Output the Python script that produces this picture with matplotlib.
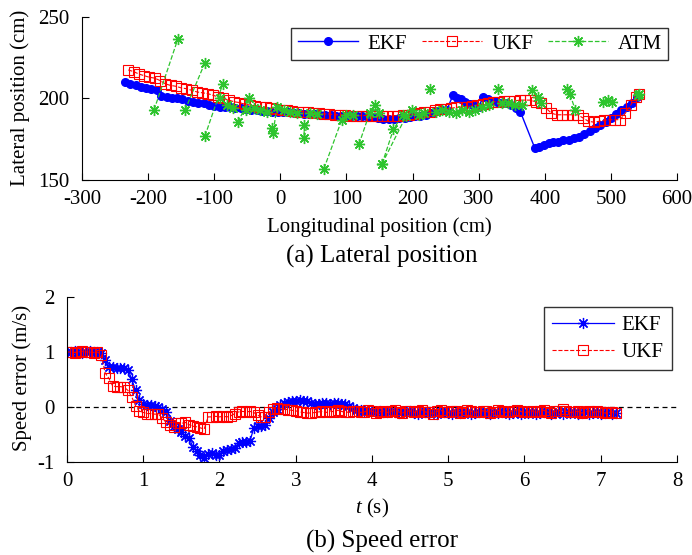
import numpy as np
import matplotlib
matplotlib.use("Agg")
import matplotlib.pyplot as plt

plt.rcParams['font.family'] = ['Liberation Serif', 'DejaVu Serif']
plt.rcParams['mathtext.fontset'] = 'custom'
plt.rcParams['mathtext.it'] = 'Liberation Serif:italic'
plt.rcParams['mathtext.rm'] = 'Liberation Serif'
plt.rcParams['axes.unicode_minus'] = False

# ---- (a) lateral position data (cm) ----
ekf_lon = [-235, -227, -219, -211, -203, -195, -187, -180, -172, -164,
           -156, -148, -140, -132, -124, -116, -108, -100, -92, -84,
           -76, -68, -60, -52, -44, -36, -28, -20, -12, -4,
           4, 12, 20, 28, 36, 44, 52, 60, 68, 76,
           84, 92, 100, 108, 116, 124, 132, 140, 148, 156,
           164, 172, 180, 188, 196, 204, 212, 220, 228, 236,
           244, 252, 261, 267, 273, 280, 287, 294, 300, 307,
           314, 321, 328, 335, 342, 349, 356, 363, 385, 392,
           399, 406, 413, 420, 428, 436, 444, 452, 460, 468,
           476, 484, 492, 500, 508, 516, 524, 532, 540]
ekf_lat = [210, 209, 208, 207, 206.5, 206, 205, 201.5, 201, 200.5,
           200, 199.5, 198.5, 198, 197.5, 197, 196, 195.5, 195, 194.5,
           194.5, 194, 194, 193.5, 193, 193, 192.5, 192.5, 192, 192,
           191.5, 191.5, 191, 191, 190.5, 190.5, 190.5, 190, 190, 190,
           189.5, 189.5, 189.5, 189, 189, 189, 188.5, 188.5, 188, 187.5,
           187.5, 187.5, 188, 188, 188.5, 189, 189, 190, 191, 192.5,
           193, 193, 202, 200.5, 199.5, 198, 196.5, 195.5, 195, 201,
           199.5, 198.5, 198, 197.5, 197, 196, 194, 192, 169.5, 170.5,
           171.5, 172.5, 173, 173.5, 174.5, 174.5, 175.5, 176.5, 178, 180,
           182, 183.5, 185.5, 188, 190.5, 193, 194.5, 197, 201]

ukf_lon = [-230, -222, -214, -206, -198, -190, -182, -174, -166, -158,
           -150, -142, -134, -126, -118, -110, -102, -94, -86, -78,
           -70, -62, -54, -46, -38, -30, -22, -14, -6, 2,
           10, 18, 26, 34, 42, 50, 58, 66, 74, 82,
           90, 98, 106, 114, 122, 130, 138, 146, 154, 162,
           170, 178, 186, 194, 202, 210, 218, 226, 234, 242,
           250, 258, 266, 274, 282, 290, 298, 306, 314, 322,
           330, 338, 346, 354, 362, 370, 378, 386, 394, 402,
           410, 418, 426, 434, 442, 450, 458, 466, 474, 482,
           490, 498, 506, 514, 522, 530, 538, 542]
ukf_lat = [217.5, 216.5, 215, 214, 213, 212.5, 211, 209, 208, 207.5,
           206.5, 206, 205, 204, 203.5, 203, 202, 201, 200, 199,
           198, 197.5, 196.5, 196, 195.5, 195, 194.5, 194, 193.5, 193,
           193, 192.5, 192, 192, 191.5, 191, 191, 190.5, 190.5, 190,
           190, 190, 189.5, 189.5, 189.5, 189.5, 189, 189, 189, 189.5,
           189.5, 189.5, 190, 190, 190.5, 191, 191.5, 192, 193, 193.5,
           193.5, 194, 194.5, 195, 195, 195.5, 196, 196.5, 197.5, 198,
           198, 198.5, 198.5, 198.5, 199, 199, 199, 198, 197, 194,
           191, 190, 190, 190, 190, 190, 188, 186, 185.5, 186,
           186.5, 187, 187, 187, 191, 196, 201, 203]

nan = np.nan
atm_lon = [-191, -155, nan, -144, -114, nan, -114, -87, nan,
           -91, -80, -72, nan, -64, -47, -52, -40, -30, -20, nan,
           -13, -11, -5, 5, 15, 25, nan, 36, 36, 45, 55, nan,
           66, 93, 100, 110, nan, 119, 135, 143, 150, nan,
           154, 171, 185, nan, 154, 190, 199, 210, 218, nan, 226, nan,
           235, 245, 255, 265, 275, 285, 295, 305, 315, nan, 329, nan,
           335, 345, 355, 365, nan, 381, 390, 395, nan, 434, 438, 446, nan,
           488, 495, 502, nan, 541, 543]
atm_lat = [193, 236.5, nan, 193, 222, nan, 177, 209, nan,
           200, 196, 194, nan, 185.5, 200, 193, 194, 193, 192, nan,
           182, 179, 195, 193, 192, 191, nan, 184, 176, 191, 190.5, nan,
           157, 187, 190, 190, nan, 172, 191, 196, 191, nan,
           160, 181, 190, nan, 160, 189, 193, 190, 191, nan, 206, nan,
           192, 193, 192, 191, 193, 192, 193, 195, 196, nan, 206, nan,
           197, 197, 196, 196, nan, 205, 201, 197, nan, 206, 203, 193, nan,
           198, 199, 198, nan, 202, 203]

# ---- (b) speed error data (m/s) ----
time_s = [0.00, 0.05, 0.10, 0.15, 0.20, 0.25, 0.30, 0.35, 0.40, 0.45,
          0.50, 0.55, 0.60, 0.65, 0.70, 0.75, 0.80, 0.85, 0.90, 0.95,
          1.00, 1.05, 1.10, 1.15, 1.20, 1.25, 1.30, 1.35, 1.40, 1.45,
          1.50, 1.55, 1.60, 1.65, 1.70, 1.75, 1.80, 1.85, 1.90, 1.95,
          2.00, 2.05, 2.10, 2.15, 2.20, 2.25, 2.30, 2.35, 2.40, 2.45,
          2.50, 2.55, 2.60, 2.65, 2.70, 2.75, 2.80, 2.85, 2.90, 2.95,
          3.00, 3.05, 3.10, 3.15, 3.20, 3.25, 3.30, 3.35, 3.40, 3.45,
          3.50, 3.55, 3.60, 3.65, 3.70, 3.75, 3.80, 3.85, 3.90, 3.95,
          4.00, 4.05, 4.10, 4.15, 4.20, 4.25, 4.30, 4.35, 4.40, 4.45,
          4.50, 4.55, 4.60, 4.65, 4.70, 4.75, 4.80, 4.85, 4.90, 4.95,
          5.00, 5.05, 5.10, 5.15, 5.20, 5.25, 5.30, 5.35, 5.40, 5.45,
          5.50, 5.55, 5.60, 5.65, 5.70, 5.75, 5.80, 5.85, 5.90, 5.95,
          6.00, 6.05, 6.10, 6.15, 6.20, 6.25, 6.30, 6.35, 6.40, 6.45,
          6.50, 6.55, 6.60, 6.65, 6.70, 6.75, 6.80, 6.85, 6.90, 6.95,
          7.00, 7.05, 7.10, 7.15, 7.20]
ekf_err = [1.0, 1.0, 1.01, 1.0, 0.99, 1.0, 1.01, 1.0, 1.0, 0.98,
           0.85, 0.72, 0.72, 0.71, 0.71, 0.70, 0.68, 0.50, 0.30, 0.12,
           0.06, 0.04, 0.03, 0.02, 0.0, -0.03, -0.10, -0.25, -0.35, -0.40,
           -0.45, -0.52, -0.56, -0.72, -0.80, -0.88, -0.93, -0.85, -0.84, -0.88,
           -0.87, -0.80, -0.78, -0.76, -0.74, -0.65, -0.63, -0.63, -0.62, -0.38,
           -0.35, -0.34, -0.32, -0.20, -0.10, -0.04, 0.03, 0.07, 0.09, 0.10,
           0.10, 0.12, 0.11, 0.10, 0.07, 0.05, 0.06, 0.07, 0.07, 0.06,
           0.07, 0.07, 0.06, 0.05, 0.02, -0.02, -0.05,
           -0.06, -0.07, -0.08, -0.07, -0.09, -0.08, -0.10, -0.09, -0.08, -0.10,
           -0.11, -0.09, -0.10, -0.08, -0.11, -0.12, -0.10, -0.09, -0.11, -0.10,
           -0.12, -0.10, -0.09, -0.11, -0.13, -0.10, -0.11, -0.09, -0.10, -0.12,
           -0.11, -0.10, -0.09, -0.11, -0.12, -0.10, -0.11, -0.09, -0.10, -0.12,
           -0.11, -0.10, -0.12, -0.09, -0.11, -0.10, -0.12, -0.11, -0.09, -0.10,
           -0.12, -0.11, -0.10, -0.12, -0.09, -0.11, -0.10, -0.12, -0.11, -0.10,
           -0.12, -0.11, -0.10, -0.12, -0.11, -0.10, -0.12, -0.11]
ukf_err = [1.0, 1.0, 0.99, 1.0, 1.01, 1.0, 1.0, 0.99, 1.0, 0.95,
           0.62, 0.52, 0.38, 0.37, 0.37, 0.36, 0.30, 0.18, 0.02, -0.08,
           -0.10, -0.12, -0.12, -0.13, -0.13, -0.20, -0.28, -0.33, -0.36, -0.30,
           -0.30, -0.28, -0.32, -0.35, -0.36, -0.38, -0.40, -0.18, -0.18, -0.17,
           -0.18, -0.17, -0.18, -0.16, -0.12, -0.09, -0.08, -0.09, -0.08, -0.10,
           -0.15, -0.18, -0.18, -0.10, -0.03, -0.02, -0.03, -0.04, -0.05, -0.06,
           -0.07, -0.09, -0.10, -0.11, -0.11, -0.10,
           -0.09, -0.08, -0.10, -0.07, -0.09, -0.06, -0.08, -0.10, -0.09, -0.07,
           -0.08, -0.10, -0.09, -0.06, -0.08, -0.11, -0.09, -0.07, -0.10, -0.08,
           -0.06, -0.09, -0.11, -0.08, -0.07, -0.10, -0.08, -0.05, -0.09, -0.10,
           -0.12, -0.08, -0.06, -0.09, -0.10, -0.08, -0.07, -0.11, -0.09, -0.06,
           -0.08, -0.10, -0.09, -0.07, -0.08, -0.11, -0.09, -0.06, -0.08, -0.10,
           -0.09, -0.07, -0.05, -0.08, -0.10, -0.09, -0.07, -0.10, -0.08, -0.06,
           -0.09, -0.11, -0.08, -0.07, -0.04, -0.08, -0.10, -0.09, -0.08, -0.11,
           -0.09, -0.07, -0.10, -0.08, -0.09, -0.11, -0.10, -0.09, -0.11]

green = '#2ec42e'
fs = 15
asterisk = (8, 2, 0)

fig = plt.figure(figsize=(6.92, 5.55), dpi=100)

# top panel
ax1 = fig.add_axes([0.1185, 0.6757, 0.8598, 0.2937])
ax1.plot(ekf_lon, ekf_lat, '-', color='blue', lw=1, marker='o', ms=5.5,
         mfc='blue', mec='blue', label='EKF')
ax1.plot(ukf_lon, ukf_lat, '--', color='red', lw=0.8, marker='s', ms=7,
         mfc='none', mec='red', mew=0.8, label='UKF')
ax1.plot(atm_lon, atm_lat, '--', color=green, lw=0.9, marker=asterisk, ms=8,
         mec=green, mew=1.0, label='ATM')
ax1.set_xlim(-300, 600)
ax1.set_ylim(150, 250)
ax1.set_xticks(range(-300, 601, 100))
ax1.set_yticks([150, 200, 250])
leg1 = ax1.legend(loc='upper right', bbox_to_anchor=(0.985, 0.933), borderaxespad=0,
                  ncol=3, fontsize=fs, frameon=True, fancybox=False,
                  edgecolor='black', handlelength=2.9, columnspacing=0.7,
                  borderpad=0.3, handletextpad=0.45)
leg1.get_frame().set_linewidth(1.0)

# bottom panel
ax2 = fig.add_axes([0.0968, 0.1676, 0.8815, 0.2973])
ax2.axhline(0, color='black', ls='--', lw=0.9, dashes=(4, 3))
ax2.plot(time_s, ekf_err, '-', color='blue', lw=0.9, marker=asterisk, ms=8,
         mec='blue', mew=0.9, label='EKF')
ax2.plot(time_s, ukf_err, '--', color='red', lw=0.8, marker='s', ms=7,
         mfc='none', mec='red', mew=0.8, label='UKF')
ax2.set_xlim(0, 8)
ax2.set_ylim(-1, 2)
ax2.set_xticks(range(0, 9))
ax2.set_yticks([-1, 0, 1, 2])
leg2 = ax2.legend(loc='upper right', bbox_to_anchor=(0.992, 0.939), borderaxespad=0,
                  fontsize=fs, frameon=True, fancybox=False,
                  edgecolor='black', handlelength=3.0, labelspacing=0.35,
                  borderpad=0.4, handletextpad=0.35)
leg2.get_frame().set_linewidth(1.0)

for ax in (ax1, ax2):
    ax.spines['top'].set_visible(False)
    ax.spines['right'].set_visible(False)
    ax.tick_params(direction='in', length=5, width=0.8, labelsize=fs)
    ax.tick_params(axis='y', pad=9)
    ax.tick_params(axis='x', pad=7)

fig.text(0.0289, 0.823, 'Lateral position (cm)', rotation=90, ha='center', va='center', fontsize=fs)
fig.text(0.5484, 0.591, 'Longitudinal position (cm)', ha='center', va='center', fontsize=fs)
fig.text(0.552, 0.5387, '(a) Lateral position', ha='center', va='center', fontsize=18)
fig.text(0.0318, 0.319, 'Speed error (m/s)', rotation=90, ha='center', va='center', fontsize=fs)
fig.text(0.5375, 0.0847, '$t$ (s)', ha='center', va='center', fontsize=fs)
fig.text(0.552, 0.0252, '(b) Speed error', ha='center', va='center', fontsize=18)

fig.savefig('out.png', dpi=100)
